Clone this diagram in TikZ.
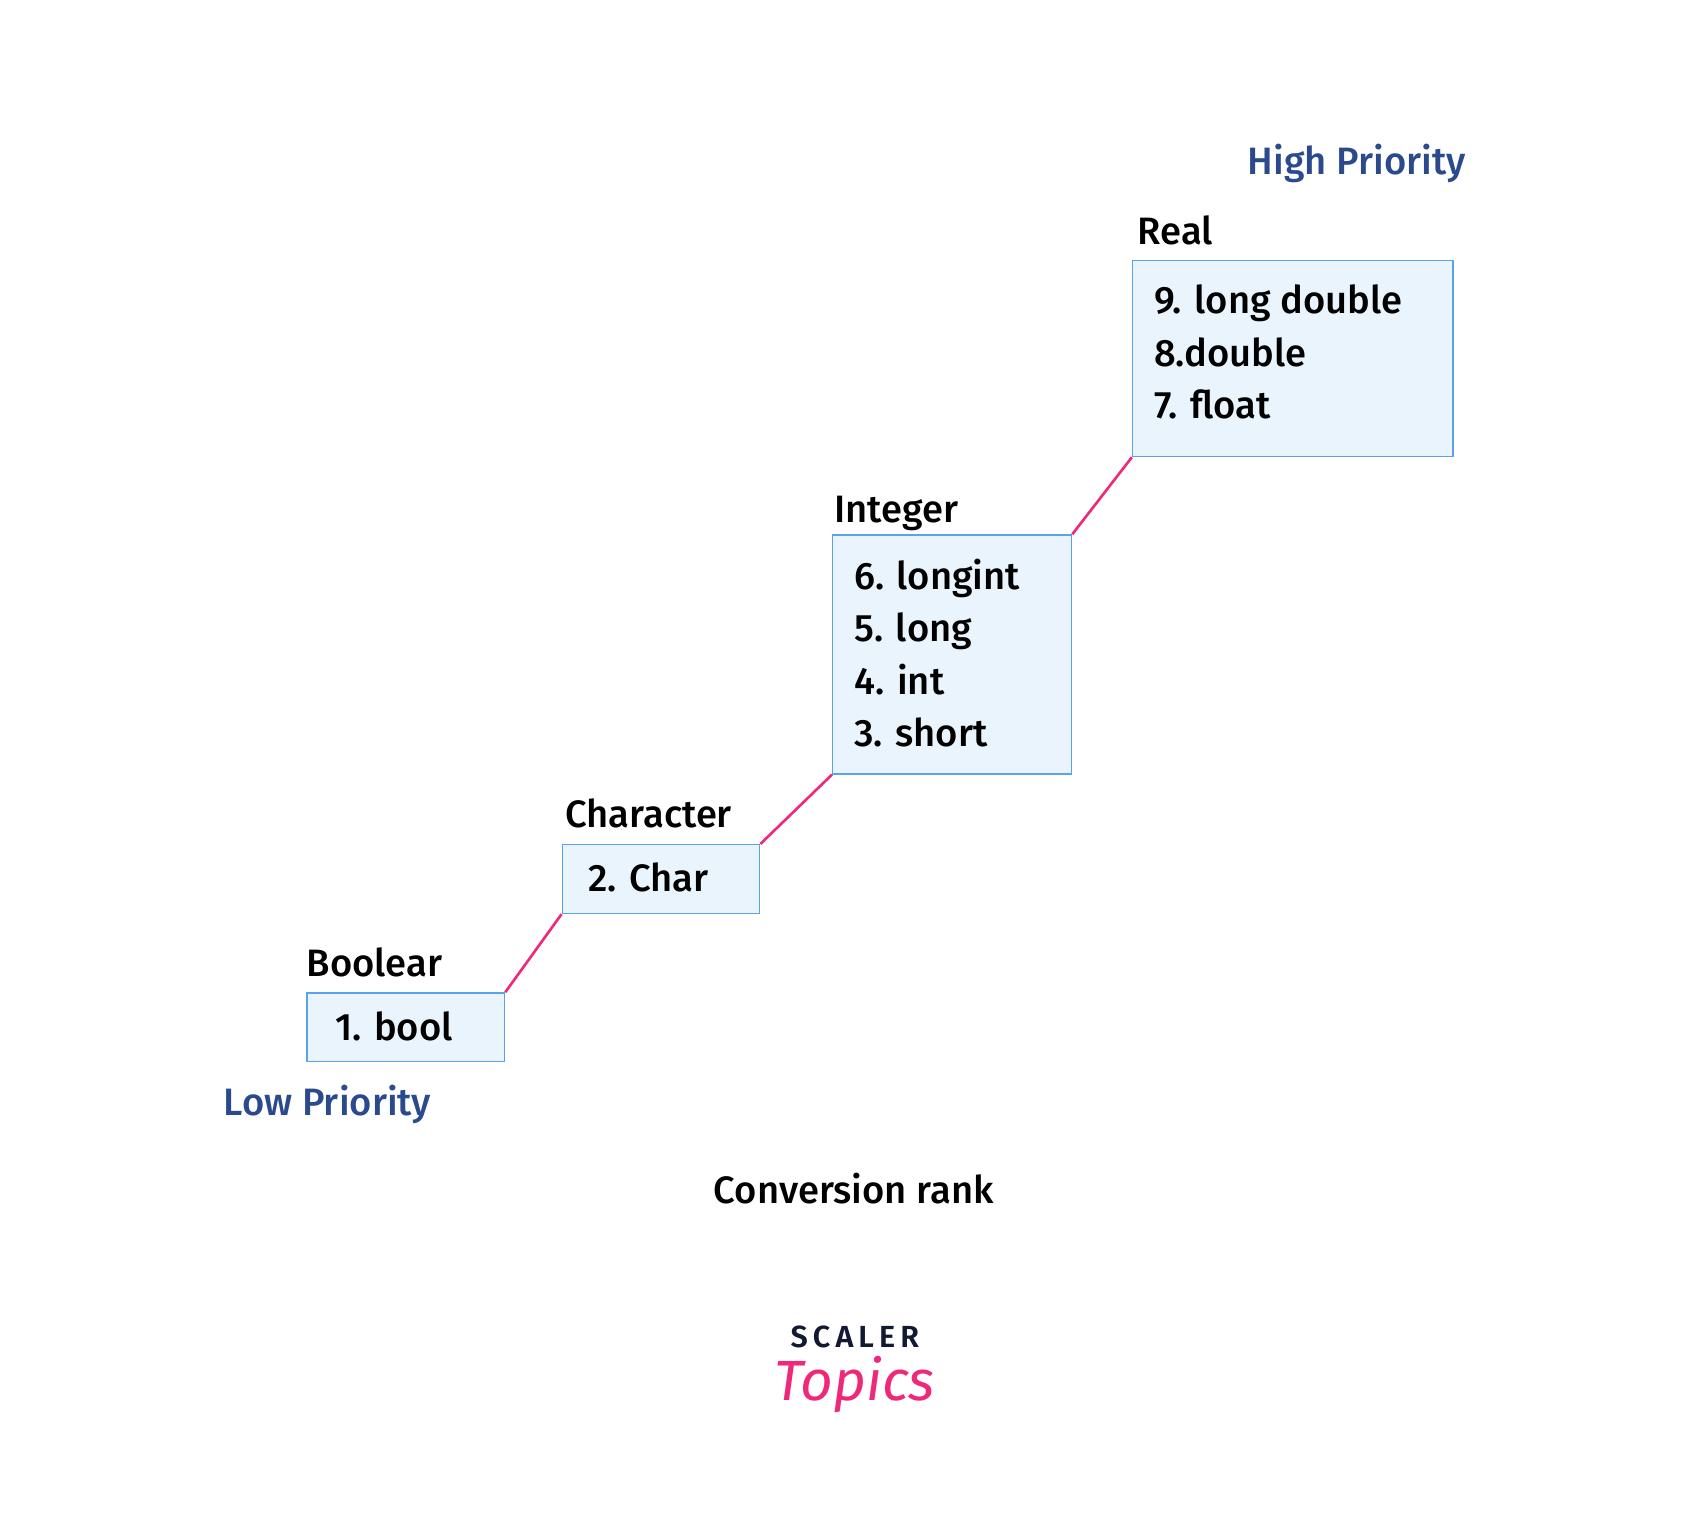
\documentclass[tikz,border=0pt]{standalone}
\usepackage{fontspec}
\setmainfont{Fira Sans}[UprightFont=* Medium, BoldFont=* SemiBold, ItalicFont=* Italic]
\definecolor{prioc}{HTML}{2B4A8E}
\definecolor{boxd}{HTML}{5AA2EE}
\definecolor{boxf}{HTML}{EAF4FD}
\definecolor{pinkc}{HTML}{F0287A}
\definecolor{navy}{HTML}{121A33}
\begin{document}
\begin{tikzpicture}[x=0.5pt,y=-0.5pt,
  box/.style={draw=boxd, line width=0.7pt, fill=boxf, inner sep=0pt, anchor=north west},
  txt/.style={font=\fontsize{17.5}{24}\selectfont, align=left, inner sep=0pt, anchor=west, text=black},
  lab/.style={font=\fontsize{17.5}{20}\selectfont, inner sep=0pt, anchor=base west},
  prio/.style={font=\fontsize{17.5}{20}\selectfont, inner sep=0pt, anchor=base west, text=prioc},
  conn/.style={draw=pinkc, line width=1.2pt}]
\useasboundingbox (0,0) rectangle (1560,1400);
\node[box, minimum width=181*0.5pt, minimum height=63*0.5pt] (b1) at (281,910) {};
\node[box, minimum width=181*0.5pt, minimum height=63*0.5pt] (b2) at (515,774) {};
\node[box, minimum width=219*0.5pt, minimum height=219*0.5pt] (b3) at (763,490) {};
\node[box, minimum width=294*0.5pt, minimum height=180*0.5pt] (b4) at (1038,238) {};
\node[txt] (t1) at (307,941) {1. bool};
\node[txt] (t2) at (539,805) {2. Char};
\node[txt] (t3) at (783,599) {6. longint\\5. long\\4. int\\3. short};
\node[txt] (t4) at (1058,323) {9. long double\\8.double\\7. float};
\node[lab] (l1) at (281,896) {Boolear};
\node[lab] (l2) at (518,759) {Character};
\node[lab] (l3) at (765,479) {Integer};
\node[lab] (l4) at (1043,224) {Real};
\node[prio] (hp) at (1144,160) {High Priority};
\node[prio] (lp) at (205,1023) {Low Priority};
\node[lab, anchor=base] (cr) at (783,1104) {Conversion rank};
\draw[conn] (b1.north east) -- (b2.south west);
\draw[conn] (b2.north east) -- (b3.south west);
\draw[conn] (b3.north east) -- (b4.south west);
\node[font=\fontsize{14}{14}\bfseries\selectfont, text=navy, inner sep=0pt] (sc) at (784,1226) {S\,C\,A\,L\,E\,R};
\node[font=\fontsize{26}{26}\itshape\selectfont, text=pinkc, inner sep=0pt] (tp) at (784,1270) {Topics};
\end{tikzpicture}
\end{document}
